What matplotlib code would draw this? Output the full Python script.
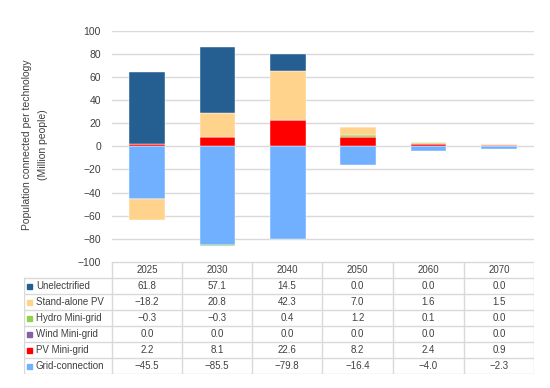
import matplotlib.pyplot as plt
from matplotlib.patches import Rectangle

plt.rcParams['font.family'] = ['Liberation Sans', 'DejaVu Sans']

years = ['2025', '2030', '2040', '2050', '2060', '2070']
unelectrified = [61.8, 57.1, 14.5, 0.0, 0.0, 0.0]
standalone_pv = [-18.2, 20.8, 42.3, 7.0, 1.6, 1.5]
hydro_mini = [-0.3, -0.3, 0.4, 1.2, 0.1, 0.0]
wind_mini = [0.0, 0.0, 0.0, 0.0, 0.0, 0.0]
pv_mini = [2.2, 8.1, 22.6, 8.2, 2.4, 0.9]
grid_conn = [-45.5, -85.5, -79.8, -16.4, -4.0, -2.3]

names = ['Unelectrified', 'Stand-alone PV', 'Hydro Mini-grid',
         'Wind Mini-grid', 'PV Mini-grid', 'Grid-connection']
series = [unelectrified, standalone_pv, hydro_mini, wind_mini, pv_mini, grid_conn]
colors = ['#255e91', '#ffd38c', '#92d050', '#8064a2', '#ff0000', '#70b0ff']

W, H = 550, 388
fig = plt.figure(figsize=(5.5, 3.88), dpi=100)

# chart area
ax = fig.add_axes([112 / W, 1 - 262 / H, 422 / W, (262 - 30.7) / H])
x = list(range(len(years)))
pos = [0.0] * len(years)
neg = [0.0] * len(years)
# excel stacks the last series first
for vals, c in zip(series[::-1], colors[::-1]):
    bottoms = []
    for i, v in enumerate(vals):
        if v >= 0:
            bottoms.append(pos[i])
            pos[i] += v
        else:
            bottoms.append(neg[i])
            neg[i] += v
    ax.bar(x, vals, bottom=bottoms, width=0.51, color=c,
           edgecolor='white', linewidth=0.3, zorder=3)

ax.set_xlim(-0.5, len(years) - 0.5)
ax.set_ylim(-100, 100)
ax.set_yticks(range(-100, 101, 20))
ax.grid(axis='y', color='#d9d9d9', linewidth=1, zorder=0)
ax.set_xticks([])
for s in ax.spines.values():
    s.set_visible(False)
ax.tick_params(axis='y', length=0, labelsize=7.5, colors='#404040', pad=8)

fig.text(35 / W, 1 - 145 / H, 'Population connected per technology\n(Million people)',
         rotation=90, ha='center', va='center', fontsize=7.5, color='#404040',
         linespacing=1.8)

# data table
tx = fig.add_axes([24 / W, 1 - 374 / H, 510 / W, 112 / H])
tx.set_xlim(24, 534)
tx.set_ylim(374, 262)
tx.axis('off')
cols = [112, 182, 252, 322, 393, 464, 534]
rows = [262 + 16 * i for i in range(8)]
lc = '#d9d9d9'
tx.plot([cols[0], cols[-1]], [rows[0], rows[0]], color=lc, lw=1)
for r in rows[1:]:
    tx.plot([24, cols[-1]], [r, r], color=lc, lw=1)
tx.plot([24, 24], [rows[1], rows[-1]], color=lc, lw=1)
for c in cols:
    tx.plot([c, c], [rows[0], rows[-1]], color=lc, lw=1)

for j, yr in enumerate(years):
    tx.text((cols[j] + cols[j + 1]) / 2, rows[0] + 8, yr, ha='center',
            va='center', fontsize=7, color='#404040')
for i, (nm, vals, c) in enumerate(zip(names, series, colors)):
    yc = rows[i + 1] + 8
    tx.add_patch(Rectangle((27, yc - 2.5), 5, 5, color=c))
    tx.text(36, yc, nm, ha='left', va='center', fontsize=7, color='#404040')
    for j, v in enumerate(vals):
        tx.text((cols[j] + cols[j + 1]) / 2, yc, f'{v:.1f}'.replace('-', '\u2212'),
                ha='center', va='center', fontsize=7, color='#404040')

fig.savefig('out.png', dpi=100)
